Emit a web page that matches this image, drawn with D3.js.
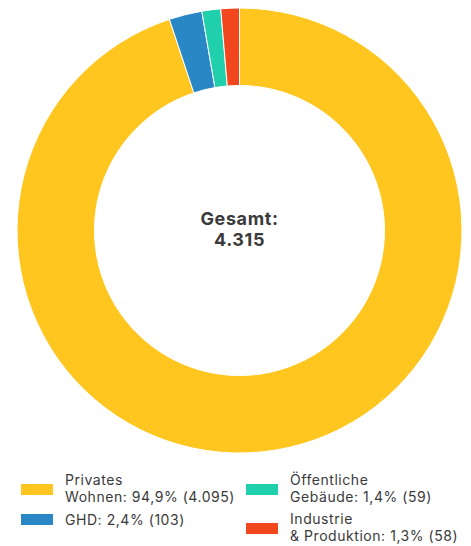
<!DOCTYPE html>
<html>
<head>
<meta charset="utf-8">
<script src="https://cdn.jsdelivr.net/npm/d3@7"></script>
<style>
  body { margin: 0; background: #fff; }
  svg text { font-family: Inter, "Open Sans", sans-serif; fill: #3a3a3a; }
</style>
</head>
<body>
<div id="chart"></div>
<script>
const WIDTH = 471;
const HEIGHT = 546;

// Daten
const categories = ['Privates Wohnen', 'GHD', 'Öffentliche Gebäude', 'Industrie & Produktion'];
const values = [4095, 103, 59, 58];
const percents = ['94,9%', '2,4%', '1,4%', '1,3%'];
const colors = ['#FFC620', '#2A87C6', '#20CFAB', '#F2461F'];
const legendLines = [
    ['Privates', 'Wohnen: 94,9% (4.095)'],
    ['GHD: 2,4% (103)'],
    ['Öffentliche', 'Gebäude: 1,4% (59)'],
    ['Industrie', '& Produktion: 1,3% (58)']
];
const total = '4.315';

const cx = 239.5, cy = 230.5;
const outerR = 222.5, innerR = 145;

const svg = d3.select('#chart')
    .append('svg')
        .attr('width', WIDTH)
        .attr('height', HEIGHT);

const data = categories.map((c, i) => ({name: c, value: values[i], color: colors[i]}));

const pie = d3.pie().sort(null).value(d => d.value);
const arc = d3.arc().innerRadius(innerR).outerRadius(outerR);

const donut = svg.append('g')
    .attr('transform', `translate(${cx},${cy})`);

donut.selectAll('path')
    .data(pie(data))
    .enter()
    .append('path')
        .attr('d', arc)
        .attr('fill', d => d.data.color)
        .attr('stroke', '#fff')
        .attr('stroke-width', 1);

// Mitte
donut.append('text')
    .attr('text-anchor', 'middle')
    .attr('y', -6)
    .style('font-size', '18px')
    .style('letter-spacing', '0.6px')
    .style('font-weight', 700)
    .text('Gesamt:');

donut.append('text')
    .attr('text-anchor', 'middle')
    .attr('y', 15)
    .style('font-size', '18px')
    .style('letter-spacing', '0.6px')
    .style('font-weight', 700)
    .text(total);

// Legende
const legendPos = [
    {x: 21, y: 484},
    {x: 21, y: 514},
    {x: 246, y: 484},
    {x: 246, y: 523}
];

const legend = svg.append('g');

legendLines.forEach((lines, i) => {
    const p = legendPos[i];
    const g = legend.append('g').attr('transform', `translate(${p.x},${p.y})`);
    g.append('rect')
        .attr('width', 32)
        .attr('height', 11)
        .attr('fill', colors[i]);
    const yStart = lines.length === 2 ? 1 : 11;
    lines.forEach((l, j) => {
        g.append('text')
            .attr('x', 44)
            .attr('y', yStart + j * 17)
            .style('font-size', '14px')
            .style('letter-spacing', '0.55px')
            .text(l);
    });
});
</script>
</body>
</html>
